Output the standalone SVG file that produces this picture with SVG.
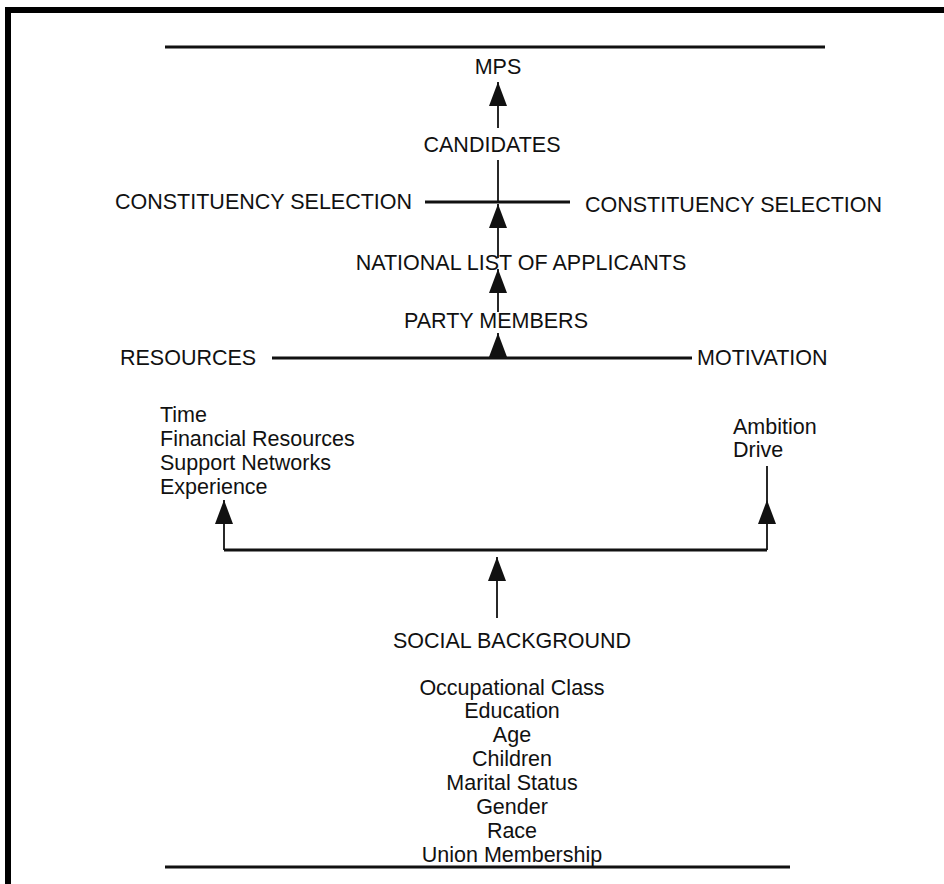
<svg xmlns="http://www.w3.org/2000/svg" width="944" height="884" viewBox="0 0 944 884">
<style>
text{font-family:"Liberation Sans",Arial,sans-serif;font-size:21.5px;fill:#111}
.c{text-anchor:middle}
.rule{stroke:#111;stroke-width:3;fill:none}
.ln{stroke:#111;stroke-width:1.8;fill:none}
</style>
<defs>
<marker id="ah" viewBox="0 -10 24 20" refX="24" refY="0" markerWidth="24" markerHeight="20" markerUnits="userSpaceOnUse" orient="auto">
<path d="M0,-9 L24,0 L0,9 z" fill="#111"/>
</marker>
</defs>
<rect width="944" height="884" fill="#fff"/>
<g id="frame">
<rect x="5" y="7" width="939" height="6" fill="#000"/>
<rect x="5" y="7" width="6" height="877" fill="#000"/>
<line class="rule" x1="165" y1="47" x2="825" y2="47"/>
<line class="rule" x1="165" y1="867" x2="790" y2="867"/>
</g>
<g id="connectors">
<line class="ln" x1="498" y1="128" x2="498" y2="82" marker-end="url(#ah)"/>
<line class="ln" x1="498" y1="202" x2="498" y2="160"/>
<line class="rule" x1="425" y1="202" x2="570" y2="202"/>
<line class="ln" x1="498" y1="258" x2="498" y2="204" marker-end="url(#ah)"/>
<line class="ln" x1="498" y1="312" x2="498" y2="269" marker-end="url(#ah)"/>
<line class="ln" x1="498" y1="358" x2="498" y2="333" marker-end="url(#ah)"/>
<line class="rule" x1="272" y1="358" x2="692" y2="358"/>
<line class="ln" x1="767" y1="466" x2="767" y2="500"/>
<path class="rule" d="M224 550 H767"/>
<line class="ln" x1="224" y1="550" x2="224" y2="500" marker-end="url(#ah)"/>
<line class="ln" x1="767" y1="550" x2="767" y2="500" marker-end="url(#ah)"/>
<line class="ln" x1="497" y1="618" x2="497" y2="557" marker-end="url(#ah)"/>
</g>
<g id="mps"><text class="c" x="498" y="74">MPS</text></g>
<g id="candidates"><text class="c" x="492" y="152">CANDIDATES</text></g>
<g id="constituency-left"><text x="115" y="209">CONSTITUENCY SELECTION</text></g>
<g id="constituency-right"><text x="585" y="212">CONSTITUENCY SELECTION</text></g>
<g id="national-list"><text class="c" x="521" y="270">NATIONAL LIST OF APPLICANTS</text></g>
<g id="party-members"><text class="c" x="496" y="328">PARTY MEMBERS</text></g>
<g id="resources">
<text x="120" y="365">RESOURCES</text>
<text x="160" y="422">Time</text>
<text x="160" y="446">Financial Resources</text>
<text x="160" y="470">Support Networks</text>
<text x="160" y="494">Experience</text>
</g>
<g id="motivation">
<text x="697" y="365">MOTIVATION</text>
<text x="733" y="434">Ambition</text>
<text x="733" y="457">Drive</text>
</g>
<g id="social-background">
<text class="c" x="512" y="648">SOCIAL BACKGROUND</text>
<text class="c" x="512" y="695">Occupational Class</text>
<text class="c" x="512" y="718">Education</text>
<text class="c" x="512" y="742">Age</text>
<text class="c" x="512" y="766">Children</text>
<text class="c" x="512" y="790">Marital Status</text>
<text class="c" x="512" y="814">Gender</text>
<text class="c" x="512" y="838">Race</text>
<text class="c" x="512" y="862">Union Membership</text>
</g>
</svg>
